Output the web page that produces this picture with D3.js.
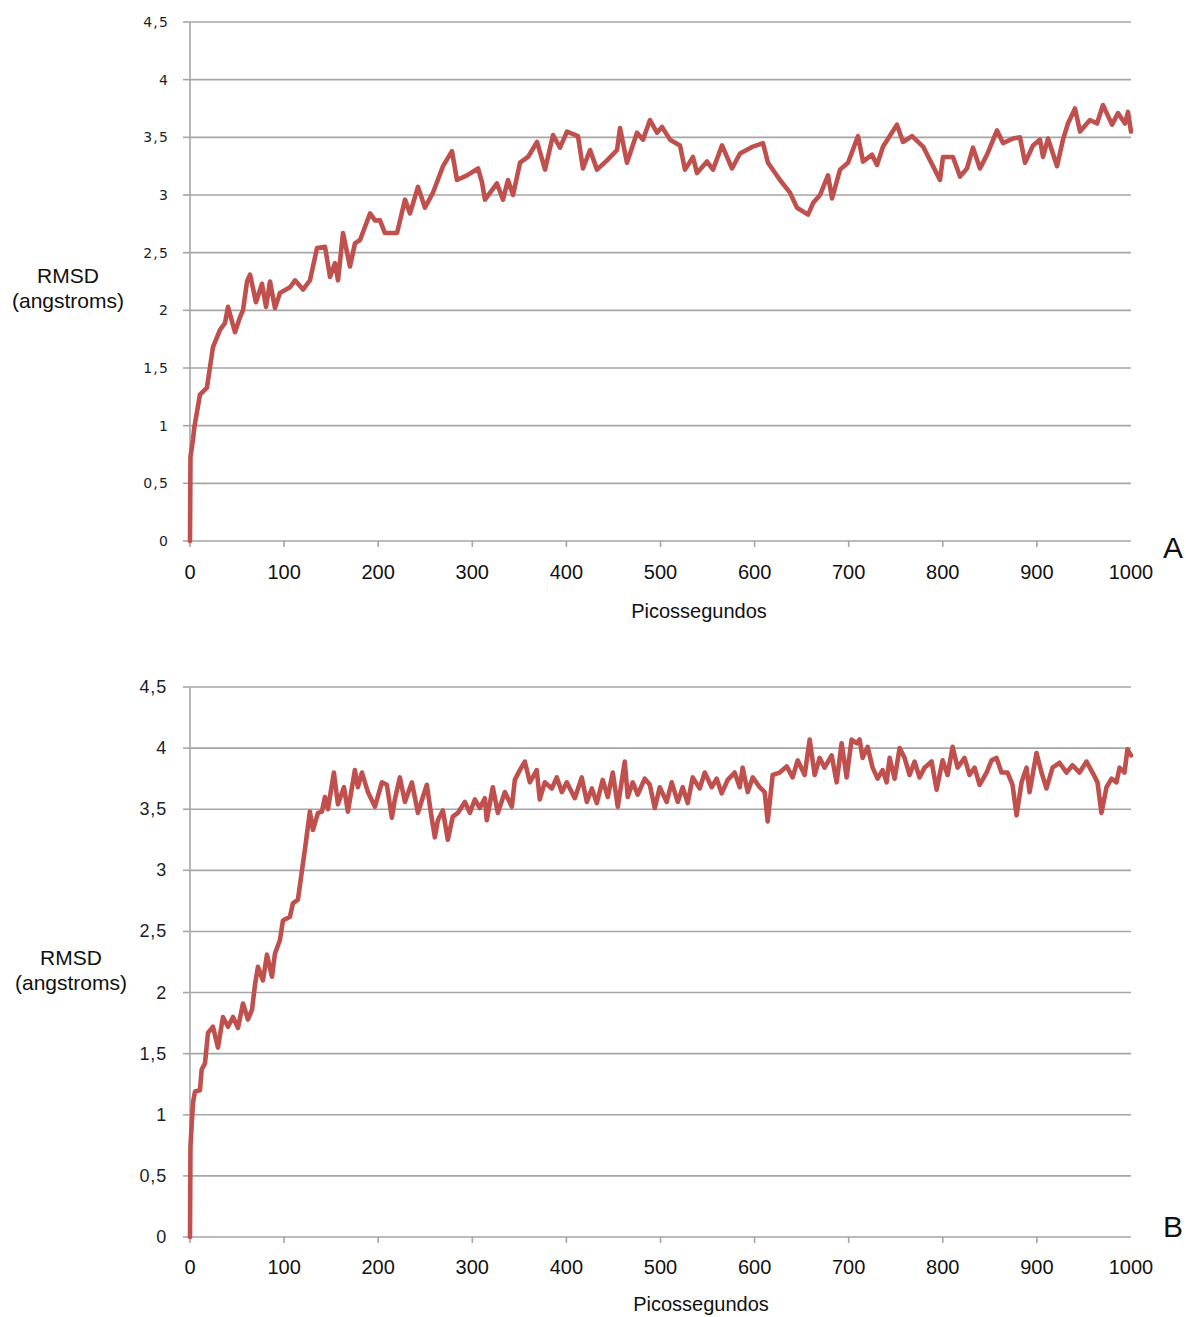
<!DOCTYPE html>
<html><head><meta charset="utf-8">
<script src="https://cdn.jsdelivr.net/npm/d3@7"></script>
<style>body{margin:0;background:#fff}svg{display:block}</style>
</head><body>
<svg id="c" width="1186" height="1317"></svg>
<script>
// ---- data ----
const xTicks = [0,100,200,300,400,500,600,700,800,900,1000];
const yTicks = [0,0.5,1,1.5,2,2.5,3,3.5,4,4.5];
const yTickLabels = ["0","0,5","1","1,5","2","2,5","3","3,5","4","4,5"];
const panelLabels = ["A","B"];
const xTitle = "Picossegundos";
const yTitle = ["RMSD","(angstroms)"];

const aTime = [0,0.5,3.2,4.5,10.6,18,24.4,31.9,37.2,40.4,47.8,53.1,56.3,60.6,63.8,70.1,76.5,80.8,85,90.3,95.6,106.3,111.6,120.1,127.5,135,143.5,148.8,154.1,157.3,162.6,170,175.3,180.7,191.3,196.6,201.9,207.2,220,228.5,233.8,242.3,249.7,258.2,268.9,278.4,283.7,294.4,306.1,310.3,313.5,326.2,332.6,337.9,343.3,350.7,359.2,368.8,377.3,385.8,393.2,400.6,412.3,417.6,425.1,432.5,443.2,453.8,457,464.4,475,481.4,488.8,496.3,501.6,510.1,520.7,526,534.5,538.8,549.4,555.8,565.4,576,584.5,598.3,608.9,614.2,627,637.6,645.1,656.8,662.1,669.5,678,682.3,690.8,699.3,709.9,715.2,724.8,730.1,736.5,751.3,757.7,767.3,779,789.6,797,800.2,810.8,818.3,825.7,832.1,839.5,847,857.6,864,874.6,882,887.4,895.9,903.3,906.5,911.8,921.4,927.7,933,940.5,945.8,956.4,963.9,970.2,979.8,986.2,993.6,996.8,1000];
const aRmsd = [0,0.73,0.88,0.98,1.27,1.33,1.68,1.83,1.89,2.03,1.81,1.94,2.0,2.25,2.31,2.07,2.23,2.03,2.25,2.02,2.15,2.2,2.26,2.18,2.26,2.54,2.55,2.29,2.41,2.26,2.67,2.38,2.58,2.61,2.84,2.78,2.78,2.67,2.67,2.96,2.84,3.07,2.89,3.02,3.25,3.38,3.13,3.17,3.23,3.11,2.96,3.1,2.96,3.13,3.0,3.28,3.33,3.46,3.22,3.52,3.41,3.55,3.51,3.23,3.39,3.22,3.3,3.39,3.58,3.28,3.54,3.48,3.65,3.54,3.59,3.48,3.43,3.22,3.33,3.19,3.29,3.22,3.43,3.23,3.36,3.42,3.45,3.28,3.13,3.02,2.89,2.83,2.93,3.0,3.17,2.97,3.22,3.28,3.51,3.29,3.35,3.26,3.42,3.61,3.46,3.51,3.42,3.25,3.13,3.33,3.33,3.16,3.23,3.41,3.23,3.35,3.56,3.45,3.49,3.5,3.28,3.43,3.48,3.33,3.49,3.25,3.48,3.62,3.75,3.55,3.65,3.62,3.78,3.61,3.71,3.62,3.72,3.55];

const bTime = [0,0.5,2.1,3.2,5.3,10.6,12.4,15.9,19.1,24.4,29.7,35,40.4,45.7,51,56.3,61.6,65.9,69,72.2,77.5,81.8,87.1,90.3,95.6,98.8,106.2,109.4,114.7,119,122.1,
127.4,130.6,136,140.2,143.4,146.6,152.9,157.2,163.6,167.8,175.2,178.4,182.7,189.1,196.5,203.9,209.2,214.5,217.7,223,228.4,235.8,242.2,247.5,251.7,256,260.2,263.4,268.7,274,279.3,284.6,292.1,297.4,302.7,308,313.3,315.4,321.8,327.1,334.6,342,345.2,350.5,355.8,361.1,368.5,371.7,377,384.5,389.8,395.1,400.4,408.9,416.3,421.7,427,432.3,438.6,444,449.3,454.6,462,465.2,470.5,475.8,483.3,488.6,493.9,499.2,506.6,511.9,518.3,523.6,528.9,534.2,541.7,547,554.4,559.7,565,571.4,578.8,584.2,587.3,592.7,598,605.4,610.7,613.9,619.2,626.6,634.1,640.4,645.8,653.2,658.5,663.8,669.1,674.4,681.9,687.2,692.5,697.8,703.1,708.4,711.6,714.8,720.1,725.4,730.7,736,740.3,743.5,748.8,754.1,759.4,764.7,770,775.3,780.6,788.1,793.4,799.8,805.1,810.4,815.7,823.1,828.4,833.8,839.1,846.5,851.8,857.1,862.4,868.8,874.1,878.4,883.7,889,892.2,899.6,904.9,910.2,916.6,924,931.5,937.8,945.3,952.7,959.1,964.4,968.6,974,979.3,984.6,987.8,993.1,996.2,1000];
const bRmsd = [0,0.74,0.96,1.1,1.19,1.2,1.37,1.42,1.67,1.72,1.55,1.8,1.72,1.8,1.71,1.91,1.78,1.86,2.06,2.21,2.1,2.31,2.13,2.32,2.43,2.59,2.62,2.73,2.76,3.0,3.17,
3.48,3.33,3.47,3.48,3.6,3.5,3.8,3.54,3.68,3.48,3.82,3.68,3.8,3.64,3.52,3.72,3.7,3.43,3.58,3.76,3.56,3.72,3.47,3.6,3.7,3.47,3.27,3.41,3.49,3.25,3.44,3.47,3.56,3.47,3.58,3.51,3.59,3.41,3.68,3.47,3.64,3.52,3.74,3.82,3.89,3.72,3.82,3.58,3.72,3.67,3.76,3.64,3.72,3.59,3.76,3.56,3.67,3.55,3.74,3.6,3.8,3.52,3.89,3.6,3.72,3.62,3.75,3.7,3.51,3.68,3.56,3.72,3.56,3.68,3.55,3.76,3.67,3.8,3.68,3.75,3.63,3.74,3.8,3.68,3.84,3.64,3.76,3.68,3.64,3.4,3.78,3.8,3.85,3.76,3.9,3.78,4.07,3.78,3.92,3.84,3.94,3.72,4.04,3.76,4.07,4.04,4.07,3.92,4.01,3.84,3.75,3.82,3.72,3.92,3.75,4.0,3.92,3.78,3.89,3.76,3.84,3.89,3.66,3.9,3.78,4.01,3.84,3.92,3.78,3.84,3.7,3.8,3.9,3.92,3.8,3.8,3.7,3.45,3.72,3.84,3.64,3.96,3.8,3.67,3.84,3.88,3.8,3.86,3.8,3.89,3.8,3.72,3.47,3.68,3.75,3.72,3.84,3.8,3.99,3.94];

// ---- drawing ----
const svg = d3.select("#c");
const gridColor = "#a6a6a6";
const lineColor = "#c0504d";

function panel(cfg){
  const x = d3.scaleLinear().domain([0,1000]).range([190,1131]);
  const y = d3.scaleLinear().domain([0,4.5]).range([cfg.bottom,cfg.top]);
  const g = svg.append("g");
  g.selectAll("line.grid").data(yTicks).enter().append("line")
    .attr("x1",x(0)).attr("x2",x(1000))
    .attr("y1",d=>y(d)).attr("y2",d=>y(d))
    .attr("stroke",gridColor).attr("stroke-width",1.6);
  g.append("line").attr("x1",x(0)).attr("x2",x(0))
    .attr("y1",y(4.5)).attr("y2",y(0)+6)
    .attr("stroke",gridColor).attr("stroke-width",1.6);
  g.selectAll("line.yt").data(yTicks).enter().append("line")
    .attr("x1",x(0)-7).attr("x2",x(0))
    .attr("y1",d=>y(d)).attr("y2",d=>y(d))
    .attr("stroke",gridColor).attr("stroke-width",1.6);
  g.selectAll("line.xt").data(xTicks.slice(1,-1)).enter().append("line")
    .attr("x1",d=>x(d)).attr("x2",d=>x(d))
    .attr("y1",y(0)).attr("y2",y(0)+6)
    .attr("stroke",gridColor).attr("stroke-width",1.6);
  g.selectAll("text.yl").data(yTicks).enter().append("text")
    .attr("x",cfg.ylx).attr("y",d=>y(d)+cfg.yldy)
    .attr("text-anchor","end")
    .attr("font-family",cfg.ylFont).attr("font-size",cfg.ylSize)
    .attr("letter-spacing",cfg.ylSpacing)
    .attr("fill","#1e1e2a")
    .text((d,i)=>yTickLabels[i]);
  g.selectAll("text.xl").data(xTicks).enter().append("text")
    .attr("x",d=>x(d)).attr("y",y(0)+cfg.xldy)
    .attr("text-anchor","middle")
    .attr("font-family","Liberation Sans, Arial, sans-serif").attr("font-size",20)
    .attr("fill","#111")
    .text(d=>d);
  g.append("text").attr("x",cfg.xtx).attr("y",y(0)+cfg.xtdy)
    .attr("text-anchor","middle")
    .attr("font-family","Liberation Sans, Arial, sans-serif").attr("font-size",20)
    .attr("fill","#111").text(xTitle);
  yTitle.forEach((t,i)=>{
    g.append("text").attr("x",cfg.ytx).attr("y",cfg.yty + i*25)
      .attr("text-anchor","middle")
      .attr("font-family","Liberation Sans, Arial, sans-serif").attr("font-size",21)
      .attr("fill","#111").text(t);
  });
  g.append("text").attr("x",1173).attr("y",cfg.ply)
    .attr("text-anchor","middle")
    .attr("font-family","Liberation Sans, Arial, sans-serif").attr("font-size",30)
    .attr("fill","#111").text(cfg.label);
  const data = cfg.t.map((t,i)=>[t,cfg.v[i]]);
  g.append("path").datum(data)
    .attr("fill","none").attr("stroke",lineColor).attr("stroke-width",4.6)
    .attr("stroke-linejoin","round").attr("stroke-linecap","round")
    .attr("d",d3.line().x(d=>x(d[0])).y(d=>y(d[1])));
}

panel({top:22,bottom:541,t:aTime,v:aRmsd,label:panelLabels[0],
  ylx:169,yldy:5,ylFont:"DejaVu Sans, Verdana, sans-serif",ylSize:14,ylSpacing:1.2,
  xldy:38,xtx:699,xtdy:77,ytx:68,yty:283,ply:558});
panel({top:687,bottom:1237,t:bTime,v:bRmsd,label:panelLabels[1],
  ylx:167,yldy:6,ylFont:"Liberation Sans, Arial, sans-serif",ylSize:18,ylSpacing:0.8,
  xldy:37,xtx:701,xtdy:74,ytx:71,yty:965,ply:1237});
</script>
</body></html>
